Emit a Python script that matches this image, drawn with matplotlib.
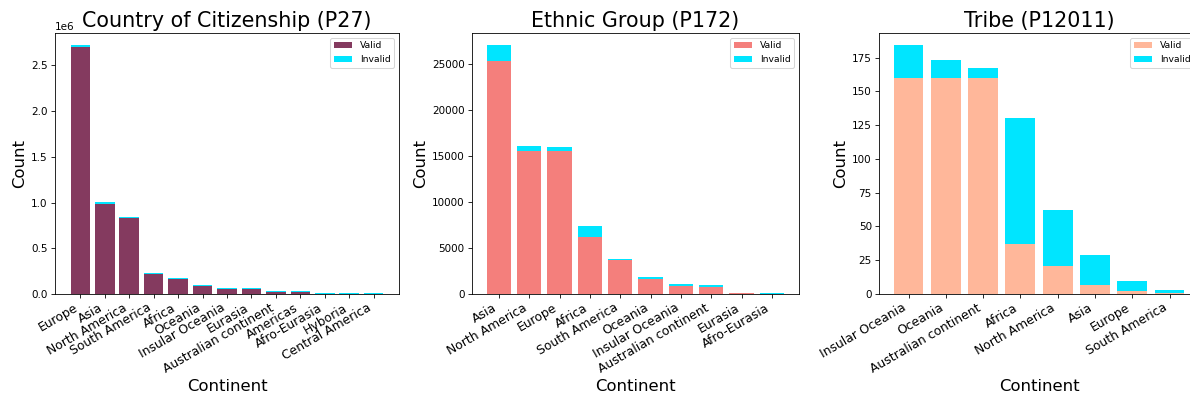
import matplotlib
matplotlib.use("Agg")
import matplotlib.pyplot as plt

# Country of Citizenship (P27)
p27_continents = ["Europe", "Asia", "North America", "South America", "Africa", "Oceania",
                  "Insular Oceania", "Eurasia", "Australian continent", "Americas",
                  "Afro-Eurasia", "Hyboria", "Central America"]
p27_valid = [2704000, 989000, 832000, 219000, 164000, 91000, 55000, 55000, 22000, 22000, 2500, 2000, 2000]
p27_invalid = [15000, 22000, 11000, 11000, 15000, 8000, 14000, 14000, 11000, 11000, 4000, 4000, 4000]

# Ethnic Group (P172)
p172_continents = ["Asia", "North America", "Europe", "Africa", "South America", "Oceania",
                   "Insular Oceania", "Australian continent", "Eurasia", "Afro-Eurasia"]
p172_valid = [25330, 15590, 15520, 6210, 3740, 1640, 910, 760, 60, 50]
p172_invalid = [1700, 540, 500, 1200, 110, 250, 180, 220, 90, 80]

# Tribe (P12011)
p12011_continents = ["Insular Oceania", "Oceania", "Australian continent", "Africa",
                     "North America", "Asia", "Europe", "South America"]
p12011_valid = [160, 160, 160, 37, 21, 7, 2, 1]
p12011_invalid = [24, 13, 7, 93, 41, 22, 8, 2]

INVALID_COLOR = "#00E5FF"

panels = [
    ("Country of Citizenship (P27)", p27_continents, p27_valid, p27_invalid, "#843A5F"),
    ("Ethnic Group (P172)", p172_continents, p172_valid, p172_invalid, "#F47F7C"),
    ("Tribe (P12011)", p12011_continents, p12011_valid, p12011_invalid, "#FFB79A"),
]

# axes boxes in figure fractions (last one runs off the right edge, like the original)
boxes = [
    [0.0462, 0.2594, 0.2891, 0.6574],
    [0.3966, 0.2594, 0.2748, 0.6574],
    [0.7387, 0.2594, 0.2689, 0.6574],
]

dpi = 74.375
fig = plt.figure(figsize=(1190 / dpi, 397 / dpi), dpi=dpi)

for (title, cats, valid, invalid, color), box in zip(panels, boxes):
    ax = fig.add_axes(box)
    ax.bar(cats, valid, color=color, label="Valid")
    ax.bar(cats, invalid, bottom=valid, color=INVALID_COLOR, label="Invalid")
    ax.set_title(title, fontsize=20)
    ax.set_xlabel("Continent", fontsize=16)
    ax.set_ylabel("Count", fontsize=16)
    ax.tick_params(axis="y", labelsize=10)
    plt.setp(ax.get_xticklabels(), rotation=30, ha="right", fontsize=12)
    ax.legend(loc="upper right", fontsize=9)

fig.savefig("out.png", dpi=dpi)
